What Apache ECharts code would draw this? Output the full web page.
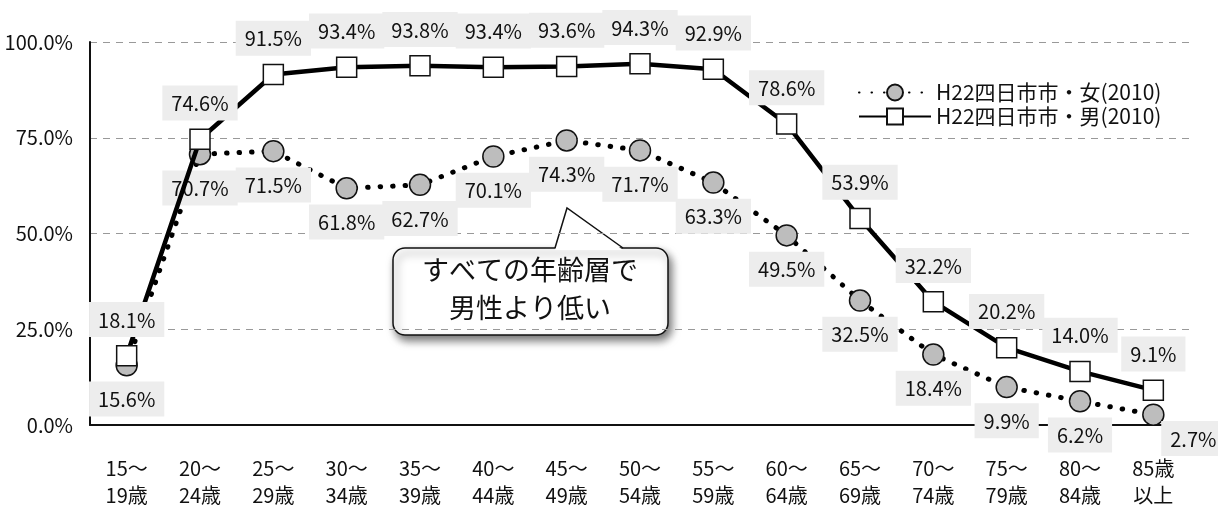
<!DOCTYPE html>
<html>
<head>
<meta charset="utf-8">
<script src="https://cdn.jsdelivr.net/npm/echarts@6/dist/echarts.min.js"></script>
<style>
  html, body { margin: 0; padding: 0; background: #fff; }
  #chart { width: 1218px; height: 515px; }
</style>
</head>
<body>
<div id="chart"></div>
<script>
  // 年齢階級
  var ageGroups = ['15～\n19歳', '20～\n24歳', '25～\n29歳', '30～\n34歳', '35～\n39歳', '40～\n44歳', '45～\n49歳',
    '50～\n54歳', '55～\n59歳', '60～\n64歳', '65～\n69歳', '70～\n74歳', '75～\n79歳', '80～\n84歳', '85歳\n以上'];
  // 労働力率 (%)
  var femaleRate = [15.6, 70.7, 71.5, 61.8, 62.7, 70.1, 74.3, 71.7, 63.3, 49.5, 32.5, 18.4, 9.9, 6.2, 2.7];
  var maleRate = [18.1, 74.6, 91.5, 93.4, 93.8, 93.4, 93.6, 94.3, 92.9, 78.6, 53.9, 32.2, 20.2, 14.0, 9.1];
  var yTicks = [0, 25, 50, 75, 100];
  var femaleName = 'H22四日市市・女(2010)';
  var maleName = 'H22四日市市・男(2010)';
  var calloutText = 'すべての年齢層で\n男性より低い';

  var font = '"Noto Sans CJK JP", "Noto Sans", sans-serif';
  var pct = function (v) { return v.toFixed(1) + '%'; };

  var labelBase = {
    show: true,
    fontFamily: font,
    fontSize: 20,
    color: '#111',
    backgroundColor: '#ededed',
    padding: [8, 9, 7, 9],
    formatter: function (p) { return pct(p.value); }
  };

  var femaleData = femaleRate.map(function (v, i) {
    var d = { value: v };
    if (i === femaleRate.length - 1) {
      d.label = { position: 'bottom', offset: [40, -10] };
    }
    return d;
  });

  var myChart = echarts.init(document.getElementById('chart'));
  var option = {
    animation: false,
    grid: { left: 90, right: 28, top: 42, bottom: 90 },
    legend: {
      orient: 'vertical',
      left: 853,
      top: 77,
      itemWidth: 72,
      itemHeight: 20,
      itemGap: 3,
      textStyle: { fontFamily: font, fontSize: 21, color: '#111' },
      data: [femaleName, maleName]
    },
    xAxis: {
      type: 'category',
      data: ageGroups,
      axisLine: { lineStyle: { color: '#111', width: 2 } },
      axisTick: { show: false },
      axisLabel: {
        fontFamily: font,
        fontSize: 20,
        color: '#111',
        lineHeight: 27,
        margin: 30
      }
    },
    yAxis: {
      type: 'value',
      min: yTicks[0],
      max: yTicks[yTicks.length - 1],
      interval: 25,
      axisLine: { show: true, lineStyle: { color: '#111', width: 2 } },
      axisTick: { show: false },
      axisLabel: {
        fontFamily: font,
        fontSize: 20,
        color: '#111',
        margin: 17,
        formatter: function (v) { return pct(v); }
      },
      splitLine: { lineStyle: { color: '#999', type: [7, 6], width: 1 } }
    },
    series: [
      {
        name: femaleName,
        type: 'line',
        data: femaleData,
        symbol: 'circle',
        symbolSize: 21,
        z: 3,
        lineStyle: { color: '#000', width: 5, type: [0.5, 12], cap: 'round' },
        itemStyle: { color: '#bdbdbd', borderColor: '#111', borderWidth: 1.5 },
        label: Object.assign({}, labelBase, { position: 'bottom', distance: 5 })
      },
      {
        name: maleName,
        type: 'line',
        data: maleRate,
        symbol: 'rect',
        symbolSize: 20,
        z: 4,
        lineStyle: { color: '#000', width: 4.5 },
        itemStyle: { color: '#fff', borderColor: '#111', borderWidth: 1.5 },
        label: Object.assign({}, labelBase, { position: 'top', distance: 8 })
      }
    ],
    // 吹き出し
    graphic: [
      {
        type: 'group',
        x: 393,
        y: 248,
        z: 100,
        children: [
          {
            type: 'rect',
            shape: { x: 0, y: 0, width: 275, height: 87, r: 12 },
            style: {
              fill: '#fff',
              stroke: '#111',
              lineWidth: 1.5,
              shadowBlur: 8,
              shadowColor: 'rgba(0,0,0,0.55)',
              shadowOffsetX: 3,
              shadowOffsetY: 5
            }
          },
          {
            type: 'polygon',
            shape: { points: [[162, 2], [174, -40], [230, 2]] },
            style: { fill: '#fff', stroke: null }
          },
          {
            type: 'polyline',
            shape: { points: [[162, 0], [174, -40], [230, 0]] },
            style: { stroke: '#111', lineWidth: 1.5, fill: null }
          },
          {
            type: 'text',
            x: 137,
            y: 3,
            style: {
              text: calloutText,
              fontFamily: font,
              fontSize: 27,
              lineHeight: 38,
              fill: '#111',
              align: 'center',
              verticalAlign: 'top'
            }
          }
        ]
      }
    ]
  };
  myChart.setOption(option);
</script>
</body>
</html>
